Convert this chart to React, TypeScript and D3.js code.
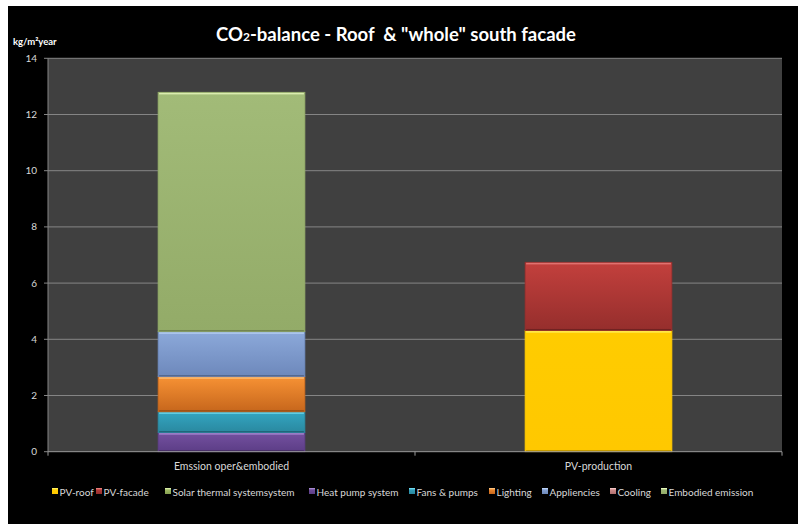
import React from "react";
import * as d3 from "d3";

const categories = ["Emssion oper&embodied", "PV-production"];
const seriesNames = [
  "PV-roof",
  "PV-facade",
  "Solar thermal systemsystem",
  "Heat pump system",
  "Fans & pumps",
  "Lighting",
  "Appliencies",
  "Cooling",
  "Embodied emission",
];
// values per series: [Emission bar, PV-production bar]
const pvRoof = [0, 4.31];
const pvFacade = [0, 2.43];
const solarThermal = [0, 0];
const heatPump = [0.68, 0];
const fansPumps = [0.74, 0];
const lighting = [1.25, 0];
const appliances = [1.6, 0];
const cooling = [0, 0];
const embodied = [8.52, 0];
const yTicks = [0, 2, 4, 6, 8, 10, 12, 14];

const seriesValues = [pvRoof, pvFacade, solarThermal, heatPump, fansPumps, lighting, appliances, cooling, embodied];

// colors [top, bottom]
const colors: [string, string][] = [
  ["#ffcc00", "#ffc800"],
  ["#c3403d", "#952e2c"],
  ["#a9c46c", "#86a050"],
  ["#7451a0", "#5c3d86"],
  ["#33a6c2", "#2a889f"],
  ["#f79234", "#c6661c"],
  ["#8ca9da", "#6d88bb"],
  ["#d99694", "#b07070"],
  ["#a2bb78", "#93ab68"],
];
const topEdge = ["#fff05a", "#e77a78", "#d6eca6", "#a589d0", "#6fd8ee", "#ffc27a", "#b9d1f6", "#f3c4c3", "#e4f5b8"];

const legendX = [52, 96, 165, 309, 409, 489, 542, 610, 661];

export default function App() {
  const W = 798, H = 524;
  const left = 48, right = 782, top = 58.3, bottom = 451.7;
  const x = d3.scaleBand<string>().domain(categories).range([left, right]).paddingInner(0).paddingOuter(0);
  const y = d3.scaleLinear().domain([0, 14]).range([bottom, top]);
  const bw = x.bandwidth() * 0.4;

  const stackData = categories.map((c, ci) => {
    const o: any = { cat: c };
    seriesNames.forEach((s, si) => (o[s] = seriesValues[si][ci]));
    return o;
  });
  const stacked = d3.stack<any>().keys(seriesNames)(stackData);
  const font = "Lato, 'Open Sans', sans-serif";

  return (
    <svg width={W} height={H} style={{ position: "absolute", left: 0, top: 0 }} fontFamily={font}>
      <defs>
        {colors.map((c, i) => (
          <linearGradient key={i} id={`g${i}`} x1="0" y1="0" x2="0" y2="1">
            <stop offset="0" stopColor={c[0]} />
            <stop offset="1" stopColor={c[1]} />
          </linearGradient>
        ))}
      </defs>
      <rect x={0} y={0} width={W} height={H} fill="#fff" />
      <rect x={8} y={6} width={W - 8} height={H - 6} fill="#000" />
      <rect x={left} y={top} width={right - left} height={bottom - top} fill="#404040" />
      {yTicks.map((t) => (
        <g key={t}>
          {t > 0 && <line x1={left} x2={right} y1={y(t)} y2={y(t)} stroke="#858585" strokeWidth={1} />}
          <line x1={left - 4} x2={left} y1={y(t)} y2={y(t)} stroke="#858585" />
          <text x={37} y={y(t) + 3.5} fill="#d9d9d9" fontSize={10} textAnchor="end">{t}</text>
        </g>
      ))}
      <line x1={left} x2={left} y1={top} y2={bottom} stroke="#858585" />
      {stacked.map((layer, si) =>
        layer.map((d, ci) => {
          const h = y(d[0]) - y(d[1]);
          if (h <= 0) return null;
          const bx = (x(categories[ci]) as number) + (x.bandwidth() - bw) / 2;
          return (
            <g key={`${si}-${ci}`}>
              <rect x={bx} y={y(d[1])} width={bw} height={h} fill={`url(#g${si})`} stroke={colors[si][1]} strokeWidth={0.8} />
              <rect x={bx + 1} y={y(d[1]) + 0.5} width={bw - 2} height={1.6} fill={topEdge[si]} opacity={0.85} />
              <rect x={bx + 1} y={y(d[0]) - 1.6} width={bw - 2} height={1.2} fill="#000" opacity={0.25} />
            </g>
          );
        })
      )}
      <line x1={left} x2={right} y1={bottom} y2={bottom} stroke="#9a9a9a" />
      {[left, left + x.bandwidth(), right].map((v, i) => (
        <line key={i} x1={v} x2={v} y1={bottom} y2={bottom + 4} stroke="#9a9a9a" />
      ))}
      {categories.map((c) => (
        <text key={c} x={(x(c) as number) + x.bandwidth() / 2} y={469.5} fill="#d9d9d9" fontSize={10.5} textAnchor="middle">{c}</text>
      ))}
      <text x={396} y={41} fill="#fff" fontSize={18.5} fontWeight="bold" textAnchor="middle" style={{ whiteSpace: "pre" }}>
        CO<tspan fontSize={12}>2</tspan>{"-balance - Roof \u00a0& \"whole\" south facade"}
      </text>
      <text x={13} y={45} fill="#fff" fontSize={9.5} fontWeight="bold">
        kg/m²year
      </text>
      {seriesNames.map((s, i) => (
        <g key={s}>
          <rect x={legendX[i]} y={488} width={6} height={6} fill={`url(#g${i})`} />
          <rect x={legendX[i]} y={488} width={6} height={1.3} fill={topEdge[i]} />
          <text x={legendX[i] + 7.5} y={495.5} fill="#d9d9d9" fontSize={10}>{s}</text>
        </g>
      ))}
    </svg>
  );
}
